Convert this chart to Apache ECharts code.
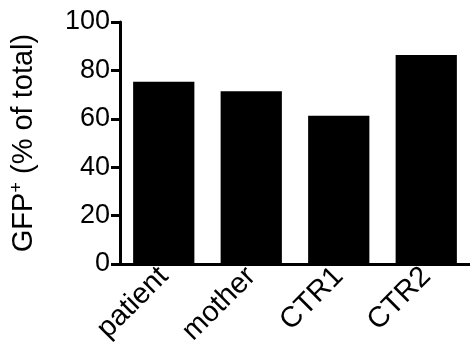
<!DOCTYPE html>
<html><head><meta charset="utf-8">
<script src="https://cdn.jsdelivr.net/npm/echarts@6/dist/echarts.min.js"></script>
<style>html,body{margin:0;padding:0;background:#fff}#c{width:470px;height:358px}</style>
</head><body><div id="c"></div>
<script>
const categories = ["patient", "mother", "CTR1", "CTR2"];
const gfpValues = [75.3, 71.4, 61.3, 86.4];
const yTicks = [0, 20, 40, 60, 80, 100];

const chart = echarts.init(document.getElementById('c'), null, {renderer: 'canvas'});
const font = 'Liberation Sans, Arial, sans-serif';
chart.setOption({
  animation: false,
  grid: {left: 111, right: 0, top: 22, bottom: 94, containLabel: false},
  xAxis: {
    type: 'category',
    data: categories,
    axisLine: {show: true, lineStyle: {color: '#000', width: 3}},
    axisTick: {show: false},
    axisLabel: {rotate: 45, color: '#000', fontSize: 29, fontFamily: font, margin: 8}
  },
  yAxis: {
    type: 'value',
    min: yTicks[0], max: yTicks[yTicks.length - 1], interval: 20,
    axisLine: {show: true, lineStyle: {color: '#000', width: 3}},
    axisTick: {show: true, length: 9, lineStyle: {color: '#000', width: 3}},
    splitLine: {show: false},
    axisLabel: {color: '#000', fontSize: 27, fontFamily: font, margin: 10},
    name: '{m|GFP}{s|+}{m| (% of total)}',
    nameLocation: 'middle',
    nameGap: 80,
    nameTextStyle: {
      fontFamily: font,
      rich: {
        m: {fontSize: 29, color: '#000', fontFamily: font, lineHeight: 32},
        s: {fontSize: 18, color: '#000', fontFamily: font, verticalAlign: 'top', lineHeight: 32, padding: [0, 0, 12, 0]}
      }
    }
  },
  series: [{
    type: 'bar',
    data: gfpValues,
    barWidth: '70%',
    itemStyle: {color: '#000'}
  }]
});
</script></body></html>
